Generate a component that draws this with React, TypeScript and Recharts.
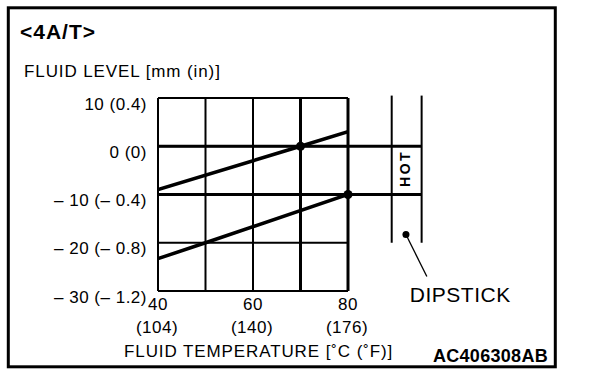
import React from 'react';
import {
  ComposedChart,
  Line,
  XAxis,
  YAxis,
  CartesianGrid,
  ReferenceLine,
  ReferenceDot,
  ReferenceArea,
} from 'recharts';

const FONT = '"Liberation Sans", Arial, Helvetica, sans-serif';

// ---- data ----
const tempGrid = [40, 50, 60, 70, 80];
const tempTicksC = [40, 60, 80];
const tempLabelsC = ['40', '60', '80'];
const tempLabelsF = ['(104)', '(140)', '(176)'];

const levelTicks = [-30, -20, -10, 0, 10];
const levelLabels = ['– 30 (– 1.2)', '– 20 (– 0.8)', '– 10 (– 0.4)', '0 (0)', '10 (0.4)'];

const upperLine = [
  { temp: 40, level: -9 },
  { temp: 70, level: 0 },
  { temp: 80, level: 3 },
];
const lowerLine = [
  { temp: 40, level: -23.3 },
  { temp: 50, level: -20 },
  { temp: 80, level: -10 },
];
const hotPoints = [
  { temp: 70, level: 0 },
  { temp: 80, level: -10 },
];
const hotLevels = [0, -10];
const thickVertical = [70, 80];

const dipstickX = [89.2, 95.5];
const dipstickRange = [-20, 10.5];
const dipstickDot = { temp: 92.2, level: -18.3 };
const dipstickLeaderEnd = { temp: 96.6, level: -27 };

const TempTick = (props: any) => {
  const { x, y, payload } = props;
  const i = tempTicksC.indexOf(payload.value);
  if (i < 0) return <g />;
  return (
    <g>
      <text x={x} y={y + 19} textAnchor="middle" fontFamily={FONT} fontSize={17} fill="#000" style={{ letterSpacing: '0.5px' }}>
        {tempLabelsC[i]}
      </text>
      <text x={x - 1} y={y + 42} textAnchor="middle" fontFamily={FONT} fontSize={17} fill="#000" style={{ letterSpacing: '0.5px' }}>
        {tempLabelsF[i]}
      </text>
    </g>
  );
};

const LevelTick = (props: any) => {
  const { x, y, payload } = props;
  const i = levelTicks.indexOf(payload.value);
  if (i < 0) return <g />;
  return (
    <text x={x - 11} y={y + 11.5} textAnchor="end" fontFamily={FONT} fontSize={17} fill="#000" style={{ letterSpacing: '0.5px' }}>
      {levelLabels[i]}
    </text>
  );
};

const HotLabel = (props: any) => {
  const vb = props.viewBox || {};
  const cx = vb.x + vb.width / 2 - 2;
  const cy = vb.y + vb.height / 2 - 2;
  return (
    <text
      x={cx}
      y={cy}
      textAnchor="middle"
      dominantBaseline="central"
      transform={`rotate(-90 ${cx} ${cy})`}
      fontFamily={FONT}
      fontWeight="bold"
      fontSize={14}
      fill="#000"
      style={{ letterSpacing: '2.5px' }}
    >
      HOT
    </text>
  );
};

const DipLabel = (props: any) => {
  const vb = props.viewBox || {};
  return (
    <text x={vb.x - 17} y={vb.y + 25} fontFamily={FONT} fontSize={21} fill="#000" style={{ letterSpacing: '0.5px' }}>
      DIPSTICK
    </text>
  );
};

export default function App() {
  return (
    <div style={{ position: 'absolute', left: 0, top: 0, width: 608, height: 378, background: '#fff' }}>
      <ComposedChart width={608} height={378} margin={{ top: 98, right: 260, bottom: 57, left: 98 }}>
        <CartesianGrid stroke="#000" strokeWidth={2} fill="none" />
        <XAxis
          type="number"
          dataKey="temp"
          domain={[40, 80]}
          ticks={tempGrid}
          interval={0}
          allowDataOverflow
          axisLine={false}
          tickLine={false}
          tickSize={0}
          tickMargin={0}
          height={30}
          tick={<TempTick />}
        />
        <YAxis
          type="number"
          dataKey="level"
          domain={[-30, 10]}
          ticks={levelTicks}
          interval={0}
          allowDataOverflow
          axisLine={false}
          tickLine={false}
          tickSize={0}
          tickMargin={0}
          width={60}
          tick={<LevelTick />}
        />
        {thickVertical.map((t) => (
          <ReferenceLine key={'v' + t} x={t} stroke="#000" strokeWidth={3} ifOverflow="visible" />
        ))}
        {hotLevels.map((lv) => (
          <ReferenceLine
            key={'h' + lv}
            segment={[
              { x: 40, y: lv },
              { x: dipstickX[1], y: lv },
            ]}
            stroke="#000"
            strokeWidth={3}
            ifOverflow="visible"
          />
        ))}
        {dipstickX.map((dx) => (
          <ReferenceLine
            key={'d' + dx}
            segment={[
              { x: dx, y: dipstickRange[0] },
              { x: dx, y: dipstickRange[1] },
            ]}
            stroke="#000"
            strokeWidth={2}
            ifOverflow="visible"
          />
        ))}
        <ReferenceArea
          x1={dipstickX[0]}
          x2={dipstickX[1]}
          y1={hotLevels[1]}
          y2={hotLevels[0]}
          fill="none"
          fillOpacity={0}
          stroke="none"
          ifOverflow="visible"
          label={<HotLabel />}
        />
        <ReferenceLine
          segment={[
            { x: dipstickDot.temp, y: dipstickDot.level },
            { x: dipstickLeaderEnd.temp, y: dipstickLeaderEnd.level },
          ]}
          stroke="#000"
          strokeWidth={1.3}
          ifOverflow="visible"
        />
        <ReferenceDot x={dipstickDot.temp} y={dipstickDot.level} r={3.5} fill="#000" stroke="none" ifOverflow="visible" />
        <ReferenceDot
          x={dipstickLeaderEnd.temp}
          y={dipstickLeaderEnd.level}
          r={0}
          fill="none"
          stroke="none"
          ifOverflow="visible"
          label={<DipLabel />}
        />
        <Line data={upperLine} dataKey="level" type="linear" stroke="#000" strokeWidth={3.5} dot={false} isAnimationActive={false} />
        <Line data={lowerLine} dataKey="level" type="linear" stroke="#000" strokeWidth={3.5} dot={false} isAnimationActive={false} />
        {hotPoints.map((p) => (
          <ReferenceDot key={'p' + p.temp} x={p.temp} y={p.level} r={4.5} fill="#000" stroke="none" ifOverflow="visible" />
        ))}
      </ComposedChart>
      <svg width={608} height={378} style={{ position: 'absolute', left: 0, top: 0, pointerEvents: 'none' }}>
        <rect x={8.3} y={7.8} width={547} height={359} fill="none" stroke="#000" strokeWidth={3} />
        <text x={20} y={39} fontFamily={FONT} fontWeight="bold" fontSize={21} fill="#000" style={{ letterSpacing: '1px' }}>
          {'<4A/T>'}
        </text>
        <text x={24} y={77} fontFamily={FONT} fontSize={17} fill="#000" style={{ letterSpacing: '0.9px' }}>
          FLUID LEVEL [mm (in)]
        </text>
        <text x={124} y={357} fontFamily={FONT} fontSize={17} fill="#000" style={{ letterSpacing: '0.9px' }}>
          FLUID TEMPERATURE [˚C (˚F)]
        </text>
        <text x={548} y={361.5} textAnchor="end" fontFamily={FONT} fontWeight="bold" fontSize={18} fill="#000" style={{ letterSpacing: '0.3px' }}>
          AC406308AB
        </text>
      </svg>
    </div>
  );
}
